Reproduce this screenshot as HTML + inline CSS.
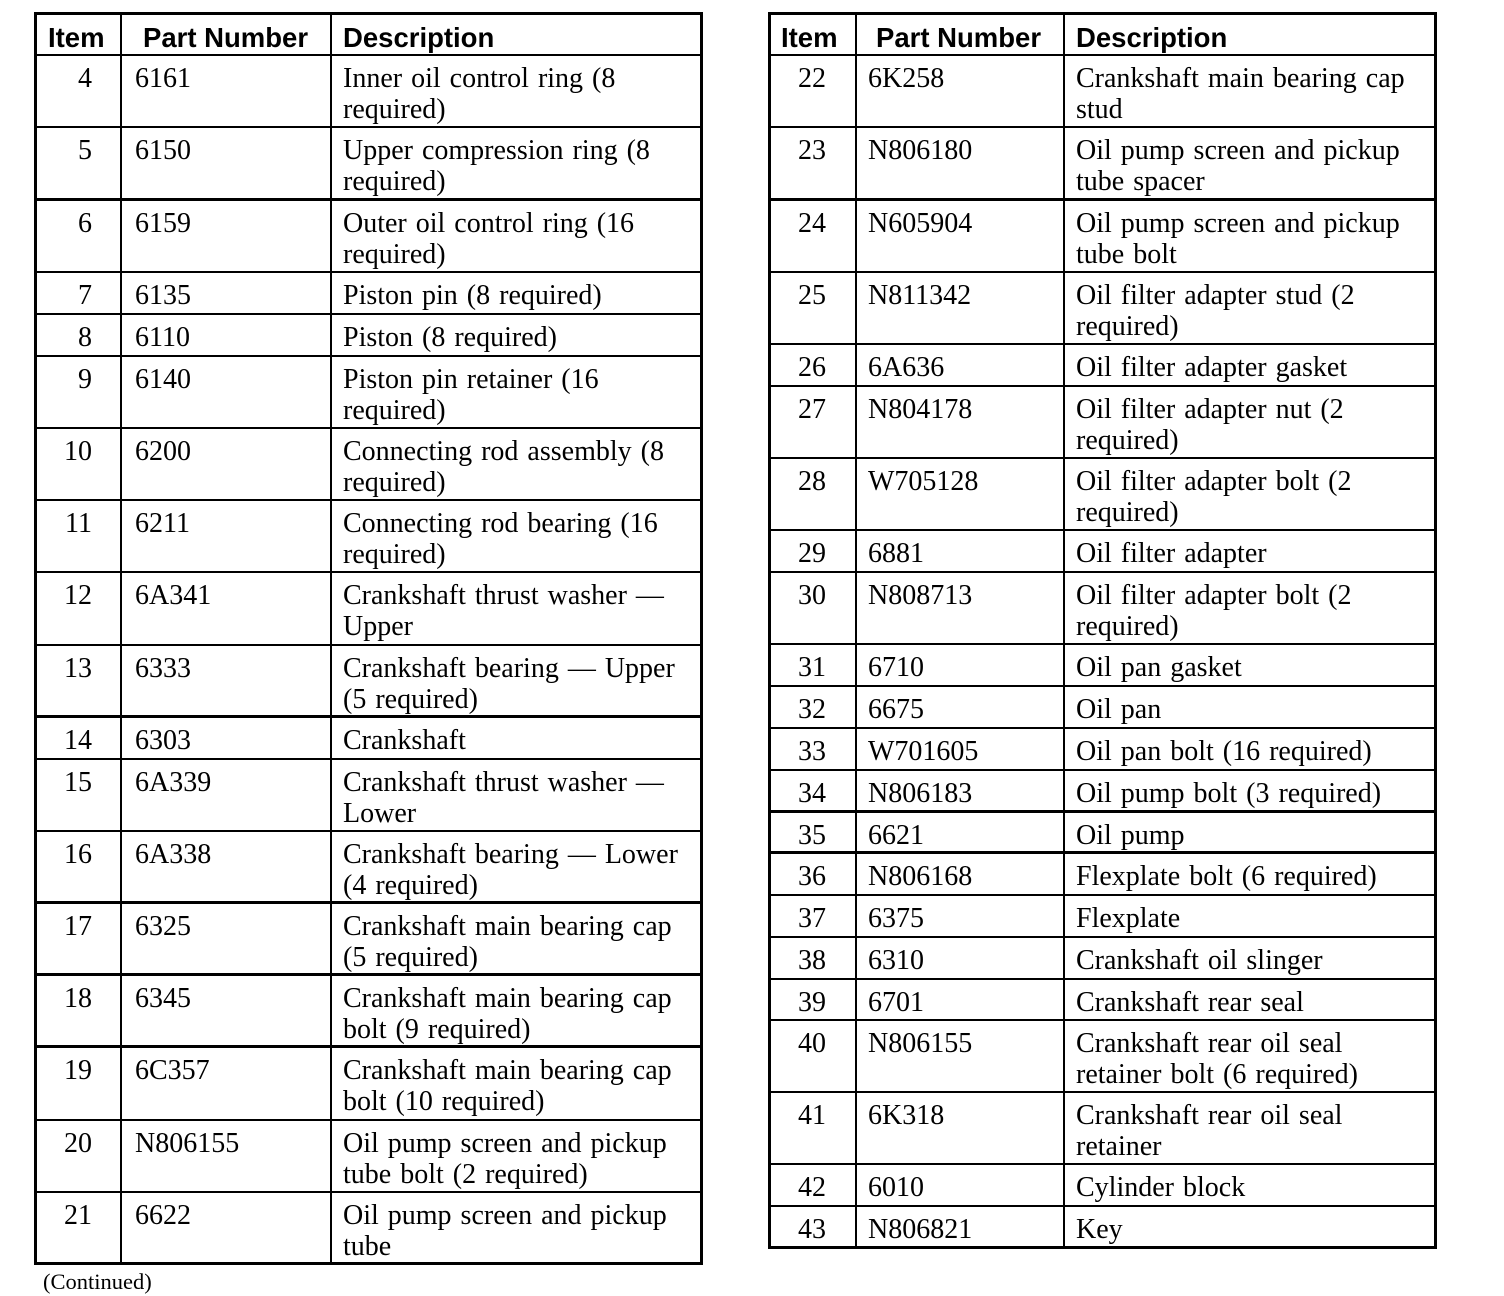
<!DOCTYPE html>
<html>
<head>
<meta charset="utf-8">
<style>
html,body{margin:0;padding:0;background:#fff;}
body{width:1504px;height:1296px;position:relative;overflow:hidden;}
.h{position:absolute;background:#000;}
.v{position:absolute;background:#000;}
.hd{position:absolute;font-family:"Liberation Sans",Arial,sans-serif;font-weight:bold;font-size:27.5px;line-height:31px;white-space:nowrap;color:#000;top:22px;}
.t{position:absolute;font-family:"Liberation Serif","Times New Roman",serif;font-size:28px;line-height:31px;white-space:nowrap;color:#000;word-spacing:2px;margin-top:1px;}
.nl{left:35px;width:57px;text-align:right;}
.nr{left:769px;width:57px;text-align:right;}
.pl{left:135px;}
.pr{left:868px;}
.dl{left:343px;}
.dr{left:1076px;}
.cont{position:absolute;left:43px;top:1271px;font-family:"Liberation Serif","Times New Roman",serif;font-size:22.5px;line-height:22px;white-space:nowrap;}
</style>
</head>
<body>
<!-- LEFT TABLE LINES -->
<div class="v" style="left:34px;top:12px;width:3px;height:1253px"></div>
<div class="v" style="left:700px;top:12px;width:3px;height:1253px"></div>
<div class="v" style="left:120px;top:12px;width:2px;height:1253px"></div>
<div class="v" style="left:330px;top:12px;width:2px;height:1253px"></div>
<div class="h" style="left:34px;width:669px;top:12px;height:3px"></div>
<div class="h" style="left:34px;width:669px;top:54px;height:2px"></div>
<div class="h" style="left:34px;width:669px;top:126px;height:2px"></div>
<div class="h" style="left:34px;width:669px;top:198px;height:3px"></div>
<div class="h" style="left:34px;width:669px;top:271px;height:2px"></div>
<div class="h" style="left:34px;width:669px;top:313px;height:2px"></div>
<div class="h" style="left:34px;width:669px;top:355px;height:2px"></div>
<div class="h" style="left:34px;width:669px;top:427px;height:2px"></div>
<div class="h" style="left:34px;width:669px;top:499px;height:2px"></div>
<div class="h" style="left:34px;width:669px;top:571px;height:2px"></div>
<div class="h" style="left:34px;width:669px;top:644px;height:2px"></div>
<div class="h" style="left:34px;width:669px;top:715px;height:3px"></div>
<div class="h" style="left:34px;width:669px;top:758px;height:2px"></div>
<div class="h" style="left:34px;width:669px;top:830px;height:2px"></div>
<div class="h" style="left:34px;width:669px;top:901px;height:3px"></div>
<div class="h" style="left:34px;width:669px;top:973px;height:3px"></div>
<div class="h" style="left:34px;width:669px;top:1045px;height:3px"></div>
<div class="h" style="left:34px;width:669px;top:1119px;height:2px"></div>
<div class="h" style="left:34px;width:669px;top:1191px;height:2px"></div>
<div class="h" style="left:34px;width:669px;top:1262px;height:3px"></div>

<!-- RIGHT TABLE LINES -->
<div class="v" style="left:768px;top:12px;width:3px;height:1237px"></div>
<div class="v" style="left:1434px;top:12px;width:3px;height:1237px"></div>
<div class="v" style="left:855px;top:12px;width:2px;height:1237px"></div>
<div class="v" style="left:1063px;top:12px;width:2px;height:1237px"></div>
<div class="h" style="left:768px;width:669px;top:12px;height:3px"></div>
<div class="h" style="left:768px;width:669px;top:54px;height:2px"></div>
<div class="h" style="left:768px;width:669px;top:126px;height:2px"></div>
<div class="h" style="left:768px;width:669px;top:198px;height:3px"></div>
<div class="h" style="left:768px;width:669px;top:271px;height:2px"></div>
<div class="h" style="left:768px;width:669px;top:343px;height:2px"></div>
<div class="h" style="left:768px;width:669px;top:385px;height:2px"></div>
<div class="h" style="left:768px;width:669px;top:457px;height:2px"></div>
<div class="h" style="left:768px;width:669px;top:529px;height:2px"></div>
<div class="h" style="left:768px;width:669px;top:571px;height:2px"></div>
<div class="h" style="left:768px;width:669px;top:643px;height:2px"></div>
<div class="h" style="left:768px;width:669px;top:685px;height:2px"></div>
<div class="h" style="left:768px;width:669px;top:727px;height:2px"></div>
<div class="h" style="left:768px;width:669px;top:769px;height:2px"></div>
<div class="h" style="left:768px;width:669px;top:810px;height:3px"></div>
<div class="h" style="left:768px;width:669px;top:851px;height:3px"></div>
<div class="h" style="left:768px;width:669px;top:894px;height:2px"></div>
<div class="h" style="left:768px;width:669px;top:936px;height:2px"></div>
<div class="h" style="left:768px;width:669px;top:978px;height:2px"></div>
<div class="h" style="left:768px;width:669px;top:1019px;height:2px"></div>
<div class="h" style="left:768px;width:669px;top:1091px;height:2px"></div>
<div class="h" style="left:768px;width:669px;top:1163px;height:2px"></div>
<div class="h" style="left:768px;width:669px;top:1205px;height:2px"></div>
<div class="h" style="left:768px;width:669px;top:1246px;height:3px"></div>

<!-- HEADERS -->
<div class="hd" style="left:48px">Item</div>
<div class="hd" style="left:143px">Part Number</div>
<div class="hd" style="left:343px">Description</div>
<div class="hd" style="left:781px">Item</div>
<div class="hd" style="left:876px">Part Number</div>
<div class="hd" style="left:1076px">Description</div>

<!-- LEFT ROWS -->
<div class="t nl" style="top:62px">4</div><div class="t pl" style="top:62px">6161</div><div class="t dl" style="top:62px">Inner oil control ring (8<br>required)</div>
<div class="t nl" style="top:134px">5</div><div class="t pl" style="top:134px">6150</div><div class="t dl" style="top:134px">Upper compression ring (8<br>required)</div>
<div class="t nl" style="top:207px">6</div><div class="t pl" style="top:207px">6159</div><div class="t dl" style="top:207px">Outer oil control ring (16<br>required)</div>
<div class="t nl" style="top:279px">7</div><div class="t pl" style="top:279px">6135</div><div class="t dl" style="top:279px">Piston pin (8 required)</div>
<div class="t nl" style="top:321px">8</div><div class="t pl" style="top:321px">6110</div><div class="t dl" style="top:321px">Piston (8 required)</div>
<div class="t nl" style="top:363px">9</div><div class="t pl" style="top:363px">6140</div><div class="t dl" style="top:363px">Piston pin retainer (16<br>required)</div>
<div class="t nl" style="top:435px">10</div><div class="t pl" style="top:435px">6200</div><div class="t dl" style="top:435px">Connecting rod assembly (8<br>required)</div>
<div class="t nl" style="top:507px">11</div><div class="t pl" style="top:507px">6211</div><div class="t dl" style="top:507px">Connecting rod bearing (16<br>required)</div>
<div class="t nl" style="top:579px">12</div><div class="t pl" style="top:579px">6A341</div><div class="t dl" style="top:579px">Crankshaft thrust washer —<br>Upper</div>
<div class="t nl" style="top:652px">13</div><div class="t pl" style="top:652px">6333</div><div class="t dl" style="top:652px">Crankshaft bearing — Upper<br>(5 required)</div>
<div class="t nl" style="top:724px">14</div><div class="t pl" style="top:724px">6303</div><div class="t dl" style="top:724px">Crankshaft</div>
<div class="t nl" style="top:766px">15</div><div class="t pl" style="top:766px">6A339</div><div class="t dl" style="top:766px">Crankshaft thrust washer —<br>Lower</div>
<div class="t nl" style="top:838px">16</div><div class="t pl" style="top:838px">6A338</div><div class="t dl" style="top:838px">Crankshaft bearing — Lower<br>(4 required)</div>
<div class="t nl" style="top:910px">17</div><div class="t pl" style="top:910px">6325</div><div class="t dl" style="top:910px">Crankshaft main bearing cap<br>(5 required)</div>
<div class="t nl" style="top:982px">18</div><div class="t pl" style="top:982px">6345</div><div class="t dl" style="top:982px">Crankshaft main bearing cap<br>bolt (9 required)</div>
<div class="t nl" style="top:1054px">19</div><div class="t pl" style="top:1054px">6C357</div><div class="t dl" style="top:1054px">Crankshaft main bearing cap<br>bolt (10 required)</div>
<div class="t nl" style="top:1127px">20</div><div class="t pl" style="top:1127px">N806155</div><div class="t dl" style="top:1127px">Oil pump screen and pickup<br>tube bolt (2 required)</div>
<div class="t nl" style="top:1199px">21</div><div class="t pl" style="top:1199px">6622</div><div class="t dl" style="top:1199px">Oil pump screen and pickup<br>tube</div>

<!-- RIGHT ROWS -->
<div class="t nr" style="top:62px">22</div><div class="t pr" style="top:62px">6K258</div><div class="t dr" style="top:62px">Crankshaft main bearing cap<br>stud</div>
<div class="t nr" style="top:134px">23</div><div class="t pr" style="top:134px">N806180</div><div class="t dr" style="top:134px">Oil pump screen and pickup<br>tube spacer</div>
<div class="t nr" style="top:207px">24</div><div class="t pr" style="top:207px">N605904</div><div class="t dr" style="top:207px">Oil pump screen and pickup<br>tube bolt</div>
<div class="t nr" style="top:279px">25</div><div class="t pr" style="top:279px">N811342</div><div class="t dr" style="top:279px">Oil filter adapter stud (2<br>required)</div>
<div class="t nr" style="top:351px">26</div><div class="t pr" style="top:351px">6A636</div><div class="t dr" style="top:351px">Oil filter adapter gasket</div>
<div class="t nr" style="top:393px">27</div><div class="t pr" style="top:393px">N804178</div><div class="t dr" style="top:393px">Oil filter adapter nut (2<br>required)</div>
<div class="t nr" style="top:465px">28</div><div class="t pr" style="top:465px">W705128</div><div class="t dr" style="top:465px">Oil filter adapter bolt (2<br>required)</div>
<div class="t nr" style="top:537px">29</div><div class="t pr" style="top:537px">6881</div><div class="t dr" style="top:537px">Oil filter adapter</div>
<div class="t nr" style="top:579px">30</div><div class="t pr" style="top:579px">N808713</div><div class="t dr" style="top:579px">Oil filter adapter bolt (2<br>required)</div>
<div class="t nr" style="top:651px">31</div><div class="t pr" style="top:651px">6710</div><div class="t dr" style="top:651px">Oil pan gasket</div>
<div class="t nr" style="top:693px">32</div><div class="t pr" style="top:693px">6675</div><div class="t dr" style="top:693px">Oil pan</div>
<div class="t nr" style="top:735px">33</div><div class="t pr" style="top:735px">W701605</div><div class="t dr" style="top:735px">Oil pan bolt (16 required)</div>
<div class="t nr" style="top:777px">34</div><div class="t pr" style="top:777px">N806183</div><div class="t dr" style="top:777px">Oil pump bolt (3 required)</div>
<div class="t nr" style="top:819px">35</div><div class="t pr" style="top:819px">6621</div><div class="t dr" style="top:819px">Oil pump</div>
<div class="t nr" style="top:860px">36</div><div class="t pr" style="top:860px">N806168</div><div class="t dr" style="top:860px">Flexplate bolt (6 required)</div>
<div class="t nr" style="top:902px">37</div><div class="t pr" style="top:902px">6375</div><div class="t dr" style="top:902px">Flexplate</div>
<div class="t nr" style="top:944px">38</div><div class="t pr" style="top:944px">6310</div><div class="t dr" style="top:944px">Crankshaft oil slinger</div>
<div class="t nr" style="top:986px">39</div><div class="t pr" style="top:986px">6701</div><div class="t dr" style="top:986px">Crankshaft rear seal</div>
<div class="t nr" style="top:1027px">40</div><div class="t pr" style="top:1027px">N806155</div><div class="t dr" style="top:1027px">Crankshaft rear oil seal<br>retainer bolt (6 required)</div>
<div class="t nr" style="top:1099px">41</div><div class="t pr" style="top:1099px">6K318</div><div class="t dr" style="top:1099px">Crankshaft rear oil seal<br>retainer</div>
<div class="t nr" style="top:1171px">42</div><div class="t pr" style="top:1171px">6010</div><div class="t dr" style="top:1171px">Cylinder block</div>
<div class="t nr" style="top:1213px">43</div><div class="t pr" style="top:1213px">N806821</div><div class="t dr" style="top:1213px">Key</div>

<div class="cont">(Continued)</div>
</body>
</html>
